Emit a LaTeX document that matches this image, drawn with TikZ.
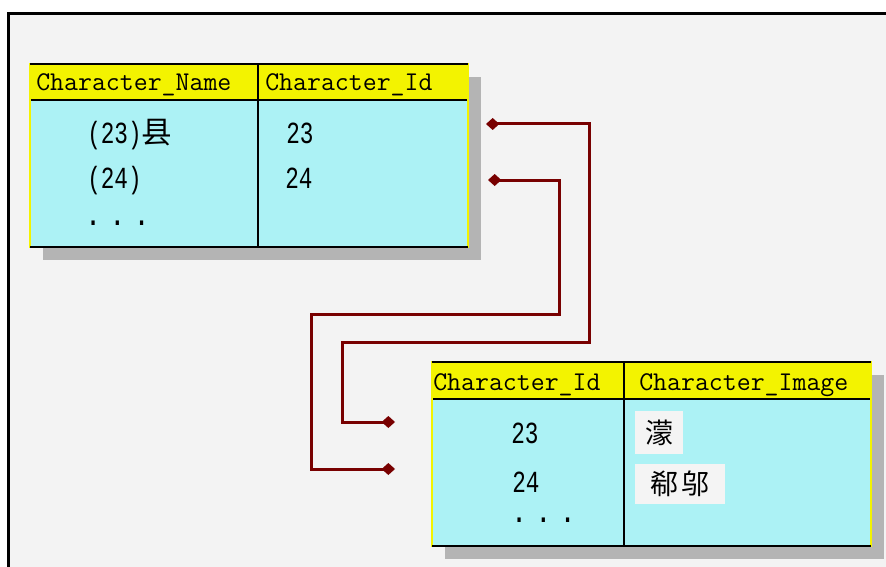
\documentclass[tikz,border=0pt]{standalone}
\usepackage{fontspec}
\newfontfamily\bodyfont[FakeStretch=0.74]{Liberation Mono}
\newfontfamily\cjk{Noto Sans CJK SC}
\usetikzlibrary{arrows.meta}
\definecolor{bgpaper}{RGB}{243,243,243}
\definecolor{hdryellow}{RGB}{243,243,0}
\definecolor{bodycyan}{RGB}{172,242,245}
\definecolor{shadowgray}{RGB}{180,180,180}
\definecolor{linkred}{RGB}{120,0,0}
\definecolor{imgpaper}{RGB}{244,244,244}
\tikzset{
  tshadow/.style={fill=shadowgray, draw=none, inner sep=0pt, outer sep=0pt},
  tbody/.style={fill=bodycyan, draw=hdryellow, line width=1.5pt, inner sep=0pt, outer sep=0pt},
  thead/.style={fill=hdryellow, draw=none, inner sep=0pt, outer sep=0pt},
  rule/.style={draw=black, line width=1.5pt},
  hdrtext/.style={font=\ttfamily\fontsize{20.3pt}{24pt}\selectfont, inner sep=0pt, anchor=base west},
  celltext/.style={font=\bodyfont\fontsize{23pt}{27pt}\selectfont, inner sep=0pt, anchor=base west},
  dotstext/.style={font=\bfseries\bodyfont\fontsize{23pt}{27pt}\selectfont, inner sep=0pt, anchor=base west},
  imgbox/.style={fill=imgpaper, draw=none, inner sep=0pt, font=\cjk\fontsize{21pt}{24pt}\selectfont},
  link/.style={draw=linkred, line width=2.25pt, line join=miter,
    {Diamond[length=10pt,width=9pt]}-{Diamond[length=10pt,width=9pt]}},
}
\begin{document}
\begin{tikzpicture}[x=0.75pt,y=-0.75pt]
\useasboundingbox (0,0) rectangle (886,567);
% page and frame
\fill[white] (0,0) rectangle (886,567);
\fill[bgpaper] (8,14) rectangle (886,567);
\draw[line width=2.25pt] (8,568) -- (8,14) -- (887,14);

% ---------- table 1 ----------
\node[tshadow, minimum width=328.5pt, minimum height=137.25pt] (t1s) at (262,168.5) {};
\node[tbody, minimum width=328.5pt, minimum height=137.25pt] (t1) at (249,155.5) {};
\node[thead, minimum width=327pt, minimum height=27pt] (t1h) at (249,82) {};
\draw[rule] (t1.north west) -- (t1.north east);
\draw[rule] (t1h.south west) -- (t1h.south east);
\draw[rule] (t1.south west) -- (t1.south east);
\draw[rule] (258,64) -- (258,247);
\node[hdrtext] (t1c1) at (36,91) {Character\_Name};
\node[hdrtext] (t1c2) at (265,91) {Character\_Id};
\node[celltext] (t1n23) at (87,143) {(23){\cjk 县}};
\node[celltext] (t1n24) at (87,188) {(24)};
\node[dotstext] (t1ndots) at (86,225) {.\hspace{8pt}.\hspace{8pt}.};
\node[celltext] (t1i23) at (286,143) {23};
\node[celltext] (t1i24) at (285,188) {24};

% ---------- table 2 ----------
\node[tshadow, minimum width=329.25pt, minimum height=138pt] (t2s) at (664,466.5) {};
\node[tbody, minimum width=329.25pt, minimum height=138pt] (t2) at (651.5,454) {};
\node[thead, minimum width=327.75pt, minimum height=27.75pt] (t2h) at (651.5,380.5) {};
\draw[rule] (t2.north west) -- (t2.north east);
\draw[rule] (t2h.south west) -- (t2h.south east);
\draw[rule] (t2.south west) -- (t2.south east);
\draw[rule] (624,362) -- (624,546);
\node[hdrtext] (t2c1) at (433,390) {Character\_Id};
\node[hdrtext] (t2c2) at (639,390) {Character\_Image};
\node[celltext] (t2i23) at (511,443) {23};
\node[celltext] (t2i24) at (512,492) {24};
\node[dotstext] (t2dots) at (512,522) {.\hspace{8pt}.\hspace{8pt}.};
\node[imgbox, minimum width=36pt, minimum height=32.25pt] (img23) at (659,432.5) {濛};
\node[imgbox, minimum width=67.5pt, minimum height=30pt] (img24) at (680,484) {郗\hspace{3pt}邬};

% ---------- connectors ----------
\coordinate (a23) at (486,124);
\coordinate (a24) at (488,180);
\coordinate (b23) at (395,422);
\coordinate (b24) at (395,469);
\draw[link] (a23) -- (589,124) -- (589,342) -- (342,342) -- (342,422) -- (b23);
\draw[link] (a24) -- (559,180) -- (559,314) -- (311,314) -- (311,469) -- (b24);
\end{tikzpicture}
\end{document}
